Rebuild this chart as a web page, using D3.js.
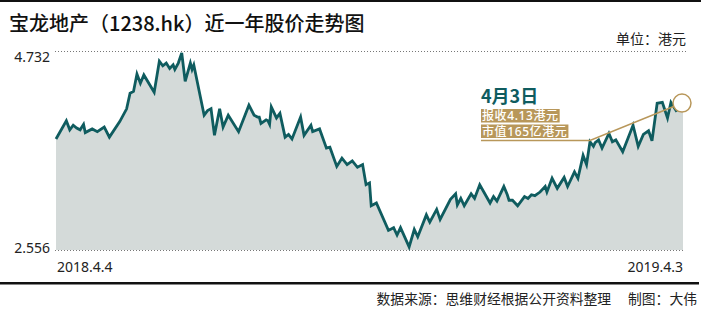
<!DOCTYPE html>
<html>
<head>
<meta charset="utf-8">
<script src="https://cdn.jsdelivr.net/npm/d3@7"></script>
<style>
  body { margin: 0; background: #fff; }
  svg { display: block; font-family: "Noto Sans", "Noto Sans CJK SC", sans-serif; }
</style>
</head>
<body>
<div id="chart"></div>
<script>
// days since 2018.4.4, closing price (HKD)
const days = [0, 6, 8, 10, 12, 14, 16, 17, 21, 24, 28, 31, 37, 41, 43, 45, 47, 49, 51, 57,
  60, 62, 64, 66, 68, 69, 71, 73, 75, 78, 79, 80, 86, 88, 90, 92, 95, 97, 100, 106,
  112, 115, 117, 118, 119, 122, 123, 124, 125, 128, 130, 133, 135, 137, 142, 144, 148, 149, 153, 157,
  159, 163, 166, 169, 172, 175, 178, 180, 182, 183, 186, 193, 196, 198, 200, 205, 208, 210, 215, 217,
  221, 223, 229, 232, 233, 235, 237, 241, 243, 246, 252, 254, 256, 260, 262, 263, 265, 268, 272, 274,
  276, 278, 281, 284, 285, 288, 291, 295, 297, 301, 303, 306, 308, 310, 312, 313, 315, 317, 321, 323,
  325, 329, 335, 338, 341, 344, 346, 349, 352, 355, 357, 360, 364];
const prices = [3.77, 3.97, 3.87, 3.92, 3.89, 3.87, 3.93, 3.84, 3.88, 3.85, 3.90, 3.79, 3.96, 4.10, 4.27, 4.29, 4.48, 4.38, 4.47, 4.28,
  4.62, 4.57, 4.60, 4.54, 4.58, 4.53, 4.60, 4.71, 4.40, 4.60, 4.53, 4.58, 4.03, 4.08, 4.10, 3.81, 4.10, 3.90, 4.03, 3.85,
  4.14, 4.03, 4.01, 4.01, 3.94, 3.98, 3.97, 3.93, 4.12, 4.00, 4.05, 3.79, 3.82, 3.77, 4.01, 3.81, 3.92, 3.85, 3.88, 3.67,
  3.68, 3.47, 3.56, 3.49, 3.53, 3.46, 3.49, 3.27, 3.29, 3.04, 3.07, 2.77, 2.80, 2.72, 2.80, 2.59, 2.78, 2.70, 2.94, 2.86,
  3.00, 2.89, 3.11, 3.17, 3.05, 3.12, 3.04, 3.17, 3.12, 3.27, 3.07, 3.14, 3.09, 3.25, 3.16, 3.10, 3.10, 3.04, 3.14, 3.12,
  3.16, 3.15, 3.19, 3.25, 3.19, 3.34, 3.23, 3.35, 3.25, 3.41, 3.34, 3.59, 3.49, 3.74, 3.69, 3.73, 3.76, 3.67, 3.83, 3.74,
  3.76, 3.63, 3.92, 3.69, 3.82, 3.86, 3.75, 4.16, 4.17, 4.00, 4.17, 4.08, 4.13];

const yTicks = [4.732, 2.556];
const xLabels = ['2018.4.4', '2019.4.3'];
const title = '宝龙地产（1238.hk）近一年股价走势图';
const unitText = '单位：港元';
const noteDate = '4月3日';
const noteLines = ['报收4.13港元', '市值165亿港元'];
const leaderDay = 310;
const sourceText = '数据来源：思维财经根据公开资料整理　  制图：大伟';

const W = 701, H = 311;
const teal = '#0f5c5f', gold = '#b8975a', fillGray = '#d4dad9';

const data = days.map((d, i) => ({ day: d, price: prices[i] }));

const svg = d3.select('#chart').append('svg')
  .attr('width', W).attr('height', H);

const x = d3.scaleLinear().domain([0, 364]).range([56, 683]);
const y = d3.scaleLinear().domain([2.556, 4.732]).range([250, 51]);

// frame rules
svg.append('rect').attr('x', 0).attr('y', 0).attr('width', W).attr('height', 2).attr('fill', '#111');
svg.append('rect').attr('x', 0).attr('y', 282).attr('width', 699).attr('height', 2.5).attr('fill', '#111');

svg.append('text').attr('x', 9).attr('y', 31)
  .attr('font-family', '"Noto Sans CJK SC", sans-serif')
  .attr('font-size', 20).attr('font-weight', 500).attr('fill', '#111')
  .text(title);

svg.append('text').attr('x', 686).attr('y', 44).attr('text-anchor', 'end')
  .attr('font-family', '"Noto Sans CJK SC", sans-serif')
  .attr('font-size', 14).attr('fill', '#222')
  .text(unitText);

// area + line
const area = d3.area().x(d => x(d.day)).y0(y(2.556)).y1(d => y(d.price));
const line = d3.line().x(d => x(d.day)).y(d => y(d.price));

svg.append('path').datum(data).attr('d', area).attr('fill', fillGray);

// dotted gridlines at top and bottom values
svg.selectAll('line.grid').data(yTicks).join('line')
  .attr('class', 'grid')
  .attr('x1', 55).attr('x2', (d, i) => i === 0 ? 687 : 684)
  .attr('y1', d => Math.round(y(d)) + 0.5).attr('y2', d => Math.round(y(d)) + 0.5)
  .attr('stroke', '#777').attr('stroke-width', 1).attr('stroke-dasharray', '1,2');

svg.selectAll('text.ytick').data(yTicks).join('text')
  .attr('class', 'ytick')
  .attr('x', 50).attr('y', (d, i) => y(d) + (i === 0 ? 11 : 3))
  .attr('text-anchor', 'end').attr('font-size', 14).attr('fill', '#222')
  .text(d => d3.format('.3f')(d));

svg.append('path').datum(data).attr('d', line)
  .attr('fill', 'none').attr('stroke', teal).attr('stroke-width', 2.8)
  .attr('stroke-linejoin', 'miter');

svg.selectAll('text.xlab').data(xLabels).join('text')
  .attr('class', 'xlab')
  .attr('x', (d, i) => i === 0 ? x(0) + 1 : x(364))
  .attr('y', 272)
  .attr('text-anchor', (d, i) => i === 0 ? 'start' : 'end')
  .attr('font-size', 14).attr('fill', '#222')
  .text(d => d);

// annotation
const last = data[data.length - 1];
const lead = data.find(d => d.day === leaderDay);
const cx = x(last.day) - 1, cy = y(last.price) - 3, r = 9;
const lx = x(lead.day), ly = 140.5;
const ang = Math.atan2(cy - ly, cx - lx);

svg.append('polyline')
  .attr('points', [[481, ly], [lx, ly], [cx - r * Math.cos(ang), cy - r * Math.sin(ang)]].join(' '))
  .attr('fill', 'none').attr('stroke', gold).attr('stroke-width', 1.5);

svg.append('circle').attr('cx', cx).attr('cy', cy).attr('r', r)
  .attr('fill', '#fff').attr('stroke', gold).attr('stroke-width', 1.5);

svg.append('text').attr('x', 481).attr('y', 103)
  .attr('font-family', '"Noto Sans CJK SC", sans-serif')
  .attr('font-size', 18).attr('font-weight', 700).attr('fill', teal)
  .text(noteDate);

const boxTop = [109, 124.5];
noteLines.forEach((t, i) => {
  const g = svg.append('g');
  const rect = g.append('rect').attr('x', 481).attr('y', boxTop[i]).attr('height', 13.5).attr('fill', gold);
  const txt = g.append('text').attr('x', 482).attr('y', boxTop[i] + 11)
    .attr('font-family', '"Noto Sans", "Noto Sans CJK SC", sans-serif')
    .attr('font-size', 12).attr('font-weight', 500).attr('letter-spacing', 0.6)
    .attr('fill', '#fff').text(t);
  rect.attr('width', txt.node().getBBox().width + 2);
});

svg.append('text').attr('x', 697).attr('y', 304).attr('text-anchor', 'end')
  .attr('font-family', '"Noto Sans CJK SC", sans-serif')
  .attr('font-size', 13.8).attr('fill', '#222')
  .text(sourceText);
</script>
</body>
</html>
